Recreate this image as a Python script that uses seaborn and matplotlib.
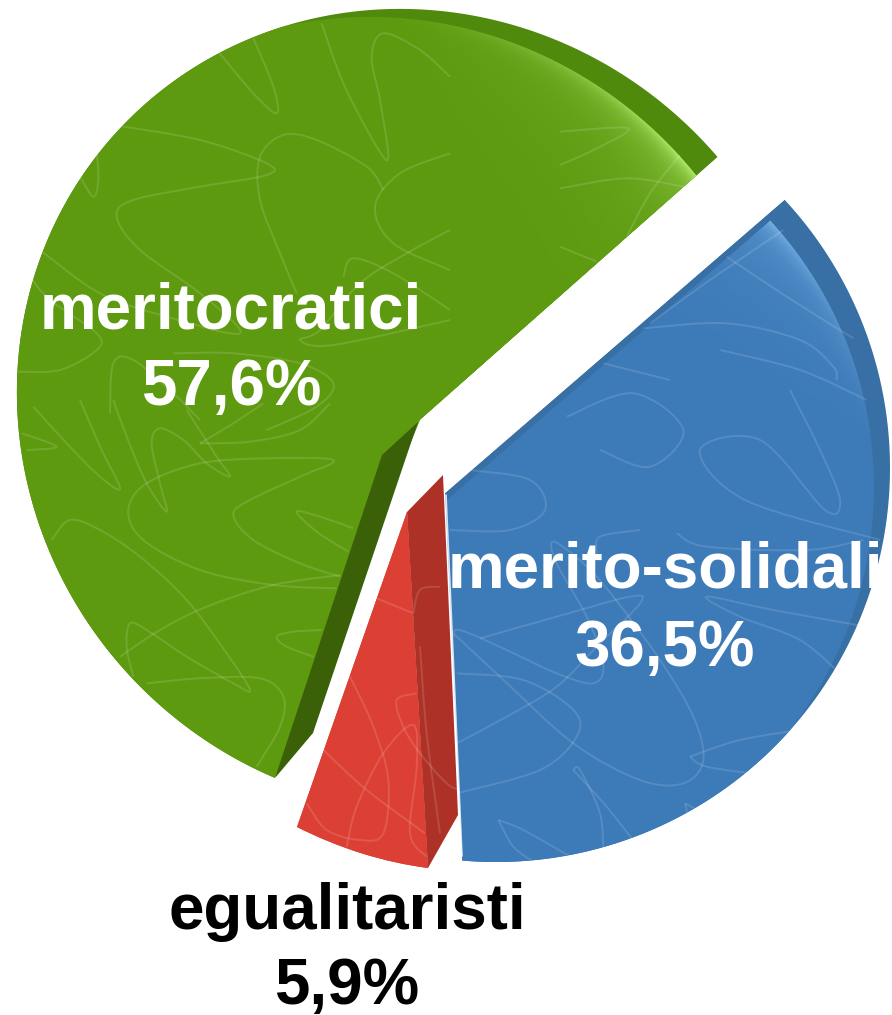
import numpy as np
import matplotlib
matplotlib.use("Agg")
import matplotlib.pyplot as plt
from matplotlib.patches import Polygon, PathPatch
from matplotlib.path import Path
from matplotlib.transforms import Affine2D
import seaborn as sns

# ---- data ----
groups = ["meritocratici", "egualitaristi", "merito-solidali"]
shares = [57.6, 5.9, 36.5]
face_colors = ["#5E9A10", "#DC4034", "#3C7AB8"]
rim_colors = ["#4F8A0C", "#DC4034", "#386FA5"]
side_colors = ["#3A6107", "#AE3127", "#2A5A8C"]
label_colors = ["white", "black", "white"]

W, H = 892, 1015
sns.set_theme(style="white")
plt.rcParams["font.family"] = ["Liberation Sans", "DejaVu Sans"]

fig = plt.figure(figsize=(W / 100, H / 100), dpi=100)
ax = fig.add_axes([0, 0, 1, 1])


def up(p):
    return np.array([p[0], H - p[1]], float)


def unit(a):
    return np.array([np.cos(np.radians(a)), np.sin(np.radians(a))])


def fit(apex, pairs, scale=1.0):
    """2x2 matrix taking the unit-circle pie to the tilted slice."""
    U = np.array([unit(a) for a, _ in pairs])
    V = np.array([up(p) - up(apex) for _, p in pairs]) * scale
    return np.linalg.lstsq(U, V, rcond=None)[0].T


def place(patch, M, apex):
    a = Affine2D(np.array([[M[0, 0], M[0, 1], 0], [M[1, 0], M[1, 1], 0], [0, 0, 1]]))
    o = up(apex)
    patch.set_transform(a + Affine2D().translate(o[0], o[1]) + ax.transData)


class Oval:
    """Outline of a slice: centre (y up), semi-axes and tilt of the first axis."""

    def __init__(self, centre, a, b, tilt=0.0, shift=(0, 0)):
        self.c = up(centre) + np.array(shift, float)
        self.a, self.b = a, b
        self.e1, self.e2 = unit(tilt), unit(tilt + 90)

    def norm(self, x, y):
        dx, dy = x - self.c[0], y - self.c[1]
        return (dx * self.e1[0] + dy * self.e1[1]) / self.a, (dx * self.e2[0] + dy * self.e2[1]) / self.b

    def reach(self, o, angles):
        """Distance from inner point o to the outline along each angle."""
        d = np.array([np.cos(np.radians(angles)), np.sin(np.radians(angles))])
        px, py = self.norm(o[0], o[1])
        qx = (d[0] * self.e1[0] + d[1] * self.e1[1]) / self.a
        qy = (d[0] * self.e2[0] + d[1] * self.e2[1]) / self.b
        A = qx ** 2 + qy ** 2
        B = 2 * (px * qx + py * qy)
        C = px ** 2 + py ** 2 - 1
        return (-B + np.sqrt(B ** 2 - 4 * A * C)) / (2 * A)


def star(apex, a1, a2, ovals):
    o = up(apex)
    ang = np.linspace(a1, a2, 400)
    r = np.min([v.reach(o, ang) for v in ovals], axis=0)
    pts = np.column_stack([o[0] + r * np.cos(np.radians(ang)), o[1] + r * np.sin(np.radians(ang))])
    return Path(np.vstack([o, pts, o]), closed=True)


base, _ = ax.pie(shares, startangle=41.5, colors=rim_colors, radius=1,
                 wedgeprops=dict(linewidth=0))
face, _ = ax.pie(shares, startangle=41.5, colors=face_colors, radius=1,
                 wedgeprops=dict(linewidth=0))
ax.set_aspect("auto")
ax.set_xlim(0, W)
ax.set_ylim(0, H)
ax.axis("off")

t = [(w.theta1, w.theta2) for w in base]

apex_g, apex_r, apex_b = (420, 420), (407, 512), (445, 493)
apex_bf = (445.5, 501)
tip_g1, tip_g2 = (720, 155), (275, 778)
tip_r1, tip_r2 = (297, 827), (428, 868)
tip_b1, tip_b2 = (462, 858), (790, 195)

M_g = fit(apex_g, [(t[0][0], tip_g1), (t[0][1], tip_g2)], 1.7)
M_r = fit(apex_r, [(t[1][0], tip_r1), (t[1][1], tip_r2)])
M_b = fit(apex_b, [(t[2][0], tip_b1), (t[2][1], tip_b2)], 1.7)

for w in (base[0], face[0]):
    place(w, M_g, apex_g)
for w in (base[1], face[1]):
    place(w, M_r, apex_r)
place(base[2], M_b, apex_b)
place(face[2], M_b, apex_bf)


def bearing(apex, p):
    v = up(p) - up(apex)
    return np.degrees(np.arctan2(v[1], v[0]))


oval_g = Oval((418, 410), 410, 392, 135)
inner_g = Oval((418, 410), 410, 392, 135, shift=(-30, -8))
oval_b = Oval((496, 468), 394, 394)
inner_b = Oval((496, 468), 394, 394, shift=(-16, -19))

g1, g2 = bearing(apex_g, tip_g1), bearing(apex_g, tip_g2) % 360
b1, b2 = bearing(apex_b, tip_b1), bearing(apex_b, tip_b2)

outline_g = star(apex_g, g1, g2, [oval_g])
outline_b = star(apex_b, b1, b2, [oval_b])
face_g = star(apex_g, g1, g2, [oval_g, inner_g])
face_b = star(apex_bf, b1, b2, [oval_b, inner_b])

base[0].set_clip_on(True)
base[0].set_clip_path(outline_g, ax.transData)
face[0].set_clip_on(True)
face[0].set_clip_path(face_g, ax.transData)
base[2].set_clip_on(True)
base[2].set_clip_path(outline_b, ax.transData)
face[2].set_clip_on(True)
face[2].set_clip_path(face_b, ax.transData)
for i in range(3):
    base[i].set_zorder(1)
    face[i].set_zorder(2)


def glow(path, oval, rgb, strength, th_full, th_zero, width):
    """Soft light band along the inside of the rim."""
    yy, xx = np.mgrid[0:H:1.0, 0:W:1.0]
    nx, ny = oval.norm(xx + 0.5, yy + 0.5)
    r = np.hypot(nx, ny)
    th = np.degrees(np.arctan2(yy + 0.5 - oval.c[1], xx + 0.5 - oval.c[0]))
    fade = np.clip((th_zero - th) / (th_zero - th_full), 0, 1) ** 1.3
    fade = np.where(th < -60, 0, fade)
    d = np.clip(1 - r, 0, None) * oval.b
    alpha = strength * fade * (0.6 * np.exp(-d / width) + 0.4 * np.exp(-d / (width * 6)))
    img = np.zeros((H, W, 4))
    img[..., :3] = matplotlib.colors.to_rgb(rgb)
    img[..., 3] = alpha
    im = ax.imshow(img, extent=(0, W, 0, H), origin="lower", zorder=3, aspect="auto",
                   interpolation="bilinear")
    im.set_clip_path(path, ax.transData)


glow(face_g, inner_g, "#B4F070", 0.95, 42, 90, 8)
glow(face_b, inner_b, "#8CC4F4", 0.8, 45, 5, 8)
ax.set_xlim(0, W)
ax.set_ylim(0, H)


def side(points, color, z=4):
    poly = Polygon([up(p) for p in points], closed=True, fc=color, ec="none", zorder=z)
    ax.add_patch(poly)
    return poly


# cut faces of the exploded slices
side([(418, 422), (382, 455), (275, 778), (313, 733)], side_colors[0])
side([(407, 512), (443, 475), (458, 815), (428, 868)], side_colors[1], z=5)
ax.plot(*zip(up((446, 495)), up((462, 856))), color="white", lw=1.2, alpha=0.8, zorder=4)

# faint scribble texture, read at 3x from crops: (origin, slice index, curves)
scribble_sets = [
    ((0, 400), 0, [
        [(1010, 565), (820, 555), (600, 510), (430, 420), (385, 330), (440, 250), (600, 190), (800, 175), (1000, 180), (900, 230), (750, 300), (700, 345), (760, 420), (900, 490), (1020, 530)],
        [(360, 770), (480, 690), (620, 620), (820, 555), (1020, 525)],
        [(155, 420), (210, 360), (300, 390), (420, 470), (560, 600), (680, 760), (750, 870), (700, 850), (560, 770), (440, 690), (390, 670), (380, 740), (400, 830)],
        [(440, 850), (600, 835), (780, 835), (850, 890), (840, 980), (770, 1100)],
        [(1060, 385), (960, 350), (890, 335), (950, 395), (1045, 455)],
        [(965, 690), (880, 695), (830, 710), (860, 740), (940, 770)],
        [(240, 0), (300, 140), (360, 265), (300, 230), (200, 130), (100, 20)],
        [(340, 0), (380, 110), (440, 250), (500, 335), (480, 250), (455, 130), (480, 85), (550, 120), (620, 190), (690, 230), (650, 170), (560, 30)],
        [(600, 130), (750, 125), (900, 90), (990, 10)],
        [(600, 130), (700, 70), (790, 10)],
        [(65, 100), (170, 140), (80, 150)],
    ]),
    ((0, 0), 0, [
        [(340, 375), (600, 420), (800, 490), (800, 525), (600, 560), (400, 600), (350, 650), (420, 750), (600, 880), (720, 1000), (500, 950), (300, 880), (120, 750)],
        [(1150, 570), (1100, 500), (950, 420), (850, 405), (780, 470), (780, 600), (840, 760), (890, 880)],
        [(965, 70), (1030, 250), (1130, 440), (1165, 470), (1140, 300), (1115, 170), (1150, 100), (1260, 150), (1350, 230)],
        [(655, 155), (760, 280), (830, 340), (820, 260), (760, 115)],
        [(1350, 460), (1200, 520), (1125, 620), (1180, 730), (1350, 810)],
        [(1350, 690), (1220, 760), (1080, 850), (960, 990), (900, 1020), (1000, 1035), (1350, 960)],
        [(1030, 830), (1060, 775), (1180, 820), (1350, 930)],
        [(50, 1115), (180, 1110), (290, 1050), (290, 1000), (150, 900), (90, 830)],
        [(240, 530), (280, 590), (295, 540), (290, 450)],
        [(520, 1060), (700, 1060), (900, 1090), (1000, 1150), (950, 1220), (800, 1290)],
        [(330, 1240), (340, 1090), (400, 1080), (520, 1180), (600, 1260)],
    ]),
    ((560, 80), 0, [
        [(0, 325), (200, 295), (370, 320)],
        [(0, 155), (205, 145), (100, 210), (0, 255)],
        [(200, 470), (270, 340), (360, 225)],
        [(0, 500), (110, 545)],
    ]),
    ((560, 80), 2, [
        [(270, 730), (450, 600), (670, 450)],
        [(500, 530), (680, 650), (880, 775)],
        [(250, 745), (500, 730), (720, 780), (820, 860), (830, 900)],
        [(130, 850), (330, 900)],
    ]),
    ((440, 530), 2, [
        [(50, 790), (300, 720), (410, 620), (400, 540), (250, 450), (50, 430)],
        [(40, 310), (180, 440), (400, 640), (600, 750), (730, 760), (790, 690), (760, 560), (660, 390), (520, 200), (430, 100), (340, 35), (350, 100), (440, 260), (490, 400), (460, 460), (350, 430), (200, 360), (60, 300), (40, 320)],
        [(50, 640), (200, 560), (350, 470), (470, 350), (600, 220), (570, 200), (350, 260), (120, 325)],
        [(750, 680), (900, 630), (1110, 595)],
        [(750, 680), (800, 710), (970, 735)],
        [(400, 720), (420, 720), (480, 850), (490, 970)],
        [(400, 720), (500, 830), (590, 945)],
        [(175, 870), (250, 900), (400, 985)],
        [(175, 870), (220, 950), (280, 995)],
        [(735, 820), (790, 850)],
        [(735, 820), (750, 880)],
        [(1280, 290), (1000, 240), (800, 200), (900, 260), (1080, 330), (1210, 440)],
        [(470, 70), (480, 20), (600, 0)],
        [(710, 10), (800, 50), (1100, 60), (1270, 30)],
    ]),
    ((0, 0), 2, [
        [(1410, 1410), (1590, 1440), (1635, 1530), (1530, 1590), (1350, 1590)],
        [(2370, 1170), (2460, 1350), (2520, 1500), (2475, 1530), (2280, 1320), (2100, 1350), (2235, 1500), (2640, 1620)],
        [(2160, 1050), (2400, 1110), (2600, 1200)],
        [(1700, 1250), (1900, 1180), (2050, 1290), (1950, 1400), (1800, 1350)],
    ]),
    ((260, 400), 1, [
        [(350, 595), (460, 640)],
        [(270, 830), (340, 980), (385, 1140), (370, 1300), (300, 1320), (200, 1290), (140, 1210)],
        [(190, 1050), (320, 1170), (495, 1300)],
        [(260, 1340), (290, 1220), (370, 1060), (460, 975), (470, 1100), (450, 1300), (500, 1370)],
        [(460, 640), (480, 570), (540, 560)],
        [(470, 880), (410, 900), (430, 980), (480, 1060), (560, 1150), (600, 1170)],
        [(480, 740), (500, 1000), (540, 1300)],
    ]),
]


def spline(pts):
    pts = np.array([up(p) for p in pts])
    P = np.vstack([pts[0], pts, pts[-1]])
    verts, codes = [P[1]], [Path.MOVETO]
    for k in range(1, len(P) - 2):
        verts += [P[k] + (P[k + 1] - P[k - 1]) / 6, P[k + 1] - (P[k + 2] - P[k]) / 6, P[k + 1]]
        codes += [Path.CURVE4] * 3
    return Path(verts, codes)


outlines = {0: outline_g, 2: outline_b}
for (ox, oy), idx, curves in scribble_sets:
    for s in curves:
        pts = [(ox + x / 3, oy + y / 3) for x, y in s]
        pp = PathPatch(spline(pts), fc="none", ec="white", lw=1.4, alpha=0.13, zorder=6)
        ax.add_patch(pp)
        if idx in outlines:
            pp.set_clip_path(outlines[idx], ax.transData)

# labels
label_xy = [(231, 328), (347, 929), (665, 588)]
value_xy = [(231, 405), (347, 1004), (665, 666)]
for name, v, c, lp, vp in zip(groups, shares, label_colors, label_xy, value_xy):
    ax.text(*up(lp), name, color=c, fontsize=45.8, fontweight="bold", ha="center", va="baseline", zorder=10)
    ax.text(*up(vp), f"{v:.1f}%".replace(".", ","), color=c, fontsize=45.8, fontweight="bold",
            ha="center", va="baseline", zorder=10)

fig.savefig("out.png", dpi=100, facecolor="white")
